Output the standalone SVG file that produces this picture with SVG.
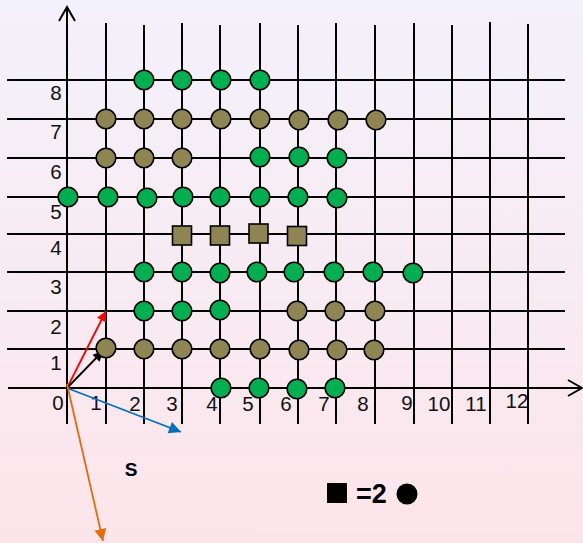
<svg xmlns="http://www.w3.org/2000/svg" width="583" height="543" viewBox="0 0 583 543">
<defs>
<linearGradient id="bg" x1="0" y1="0" x2="0" y2="1">
<stop offset="0" stop-color="#f3f1fb"/>
<stop offset="1" stop-color="#fce5ea"/>
</linearGradient>
<marker id="mRed" viewBox="0 0 10 10" refX="10" refY="5" markerWidth="12" markerHeight="10" markerUnits="userSpaceOnUse" orient="auto"><path d="M0,0 L10,5 L0,10 z" fill="#ff0000"/></marker>
<marker id="mBlack" viewBox="0 0 10 10" refX="10" refY="5" markerWidth="12" markerHeight="10" markerUnits="userSpaceOnUse" orient="auto"><path d="M0,0 L10,5 L0,10 z" fill="#000"/></marker>
<marker id="mBlue" viewBox="0 0 10 10" refX="10" refY="5" markerWidth="14" markerHeight="12" markerUnits="userSpaceOnUse" orient="auto"><path d="M0,0 L10,5 L0,10 z" fill="#0070c0"/></marker>
<marker id="mOrange" viewBox="0 0 10 10" refX="10" refY="5" markerWidth="14" markerHeight="12" markerUnits="userSpaceOnUse" orient="auto"><path d="M0,0 L10,5 L0,10 z" fill="#e46c0a"/></marker>
</defs>
<style>
.g line{stroke:#000;stroke-width:2}
.ax{stroke:#000;stroke-width:2;fill:none}
.lbl{font-family:"Liberation Sans",Arial,sans-serif;font-size:20.5px;fill:#111;text-anchor:middle}
.gr{fill:#00b050;stroke:#000;stroke-width:1.6}
.ol{fill:#8e8552;stroke:#000;stroke-width:1.6}
.b{font-family:"Liberation Sans",Arial,sans-serif;font-weight:bold;fill:#000}
</style>
<rect width="583" height="543" fill="url(#bg)"/>
<g id="grid" class="g">
<line x1="106" y1="23" x2="106" y2="424"/>
<line x1="144" y1="25" x2="144" y2="424"/>
<line x1="182" y1="23" x2="182" y2="424"/>
<line x1="220" y1="25" x2="220" y2="424"/>
<line x1="260" y1="23" x2="260" y2="424"/>
<line x1="298" y1="25" x2="298" y2="424"/>
<line x1="336" y1="23" x2="336" y2="424"/>
<line x1="375" y1="25" x2="375" y2="424"/>
<line x1="414" y1="23" x2="414" y2="424"/>
<line x1="452" y1="25" x2="452" y2="424"/>
<line x1="490" y1="22" x2="490" y2="424"/>
<line x1="528" y1="24" x2="528" y2="424"/>
<line x1="7" y1="80" x2="565" y2="80"/>
<line x1="7" y1="119" x2="565" y2="119"/>
<line x1="7" y1="158" x2="565" y2="158"/>
<line x1="7" y1="197" x2="565" y2="197"/>
<line x1="7" y1="234" x2="565" y2="234"/>
<line x1="7" y1="272" x2="565" y2="272"/>
<line x1="7" y1="311" x2="565" y2="311"/>
<line x1="7" y1="349" x2="565" y2="349"/>
</g>
<g id="axes">
<path class="ax" d="M67,424 V8 M59,21 L67,7 L75,21"/>
<path class="ax" d="M8,388 H581 M568,380 L582,388 L568,396"/>
</g>
<g id="labels" class="lbl">
<text x="56" y="100">8</text>
<text x="56" y="139">7</text>
<text x="56" y="179">6</text>
<text x="56" y="219">5</text>
<text x="56" y="255">4</text>
<text x="56" y="294">3</text>
<text x="56" y="334">2</text>
<text x="56" y="370">1</text>
<text x="58" y="410">0</text>
<text x="96" y="410">1</text>
<text x="135" y="411">2</text>
<text x="172" y="411">3</text>
<text x="212" y="411">4</text>
<text x="248" y="411">5</text>
<text x="286" y="411">6</text>
<text x="324" y="411">7</text>
<text x="363" y="411">8</text>
<text x="407" y="410">9</text>
<text x="439" y="411">10</text>
<text x="476" y="411">11</text>
<text x="517" y="408">12</text>
</g>
<g id="connectors" fill="none" stroke-width="1.8">
<line x1="67" y1="388" x2="106" y2="311" stroke="#ff0000" marker-end="url(#mRed)"/>
<line x1="67" y1="388" x2="103" y2="351" stroke="#000" marker-end="url(#mBlack)"/>
<line x1="67" y1="388" x2="181" y2="432" stroke="#0070c0" marker-end="url(#mBlue)"/>
<line x1="67" y1="384" x2="103" y2="541" stroke="#e46c0a" marker-end="url(#mOrange)"/>
</g>
<g id="row8">
<circle class="gr" cx="144" cy="80" r="9.8"/>
<circle class="gr" cx="182" cy="80" r="9.8"/>
<circle class="gr" cx="221" cy="80" r="9.8"/>
<circle class="gr" cx="260" cy="80" r="9.8"/>
</g>
<g id="row7">
<circle class="ol" cx="106" cy="119" r="9.8"/>
<circle class="ol" cx="144" cy="119" r="9.8"/>
<circle class="ol" cx="182" cy="119" r="9.8"/>
<circle class="ol" cx="221" cy="119" r="9.8"/>
<circle class="ol" cx="260" cy="119" r="9.8"/>
<circle class="ol" cx="299" cy="120" r="9.8"/>
<circle class="ol" cx="338" cy="120" r="9.8"/>
<circle class="ol" cx="376" cy="120" r="9.8"/>
</g>
<g id="row6">
<circle class="ol" cx="106" cy="158" r="9.8"/>
<circle class="ol" cx="144" cy="158" r="9.8"/>
<circle class="ol" cx="182" cy="158" r="9.8"/>
<circle class="gr" cx="260" cy="157" r="9.8"/>
<circle class="gr" cx="299" cy="157" r="9.8"/>
<circle class="gr" cx="337" cy="158" r="9.8"/>
</g>
<g id="row5">
<circle class="gr" cx="68" cy="197" r="9.8"/>
<circle class="gr" cx="108" cy="197" r="9.8"/>
<circle class="gr" cx="147" cy="198" r="9.8"/>
<circle class="gr" cx="183" cy="197" r="9.8"/>
<circle class="gr" cx="220" cy="197" r="9.8"/>
<circle class="gr" cx="260" cy="197" r="9.8"/>
<circle class="gr" cx="298" cy="197" r="9.8"/>
<circle class="gr" cx="337" cy="198" r="9.8"/>
</g>
<g id="row4">
<rect class="ol" x="172.5" y="226" width="19" height="19"/>
<rect class="ol" x="210.5" y="226" width="19" height="19"/>
<rect class="ol" x="249" y="224" width="19" height="19"/>
<rect class="ol" x="287.5" y="226.5" width="19" height="19"/>
</g>
<g id="row3">
<circle class="gr" cx="144" cy="272" r="9.8"/>
<circle class="gr" cx="182" cy="272" r="9.8"/>
<circle class="gr" cx="220" cy="273" r="9.8"/>
<circle class="gr" cx="257" cy="272" r="9.8"/>
<circle class="gr" cx="294" cy="272" r="9.8"/>
<circle class="gr" cx="334" cy="272" r="9.8"/>
<circle class="gr" cx="373" cy="272" r="9.8"/>
<circle class="gr" cx="413" cy="273" r="9.8"/>
</g>
<g id="row2">
<circle class="gr" cx="144" cy="311" r="9.8"/>
<circle class="gr" cx="182" cy="311" r="9.8"/>
<circle class="gr" cx="220" cy="310" r="9.8"/>
<circle class="ol" cx="297" cy="311" r="9.8"/>
<circle class="ol" cx="335" cy="311" r="9.8"/>
<circle class="ol" cx="375" cy="311" r="9.8"/>
</g>
<g id="row1">
<circle class="ol" cx="106" cy="348" r="9.8"/>
<circle class="ol" cx="144" cy="349" r="9.8"/>
<circle class="ol" cx="182" cy="349" r="9.8"/>
<circle class="ol" cx="220" cy="349" r="9.8"/>
<circle class="ol" cx="260" cy="349" r="9.8"/>
<circle class="ol" cx="299" cy="350" r="9.8"/>
<circle class="ol" cx="337" cy="350" r="9.8"/>
<circle class="ol" cx="374" cy="350" r="9.8"/>
</g>
<g id="row0">
<circle class="gr" cx="221" cy="388" r="9.8"/>
<circle class="gr" cx="259" cy="388" r="9.8"/>
<circle class="gr" cx="297" cy="389" r="9.8"/>
<circle class="gr" cx="335" cy="388" r="9.8"/>
</g>
<g id="s-label">
<text class="b" x="131" y="476" font-size="19" text-anchor="middle">S</text>
</g>
<g id="legend">
<rect x="327" y="483" width="20" height="20" fill="#000"/>
<text class="b" x="356" y="503" font-size="27">=2</text>
<circle cx="407" cy="494" r="10.5" fill="#000"/>
</g>
</svg>
